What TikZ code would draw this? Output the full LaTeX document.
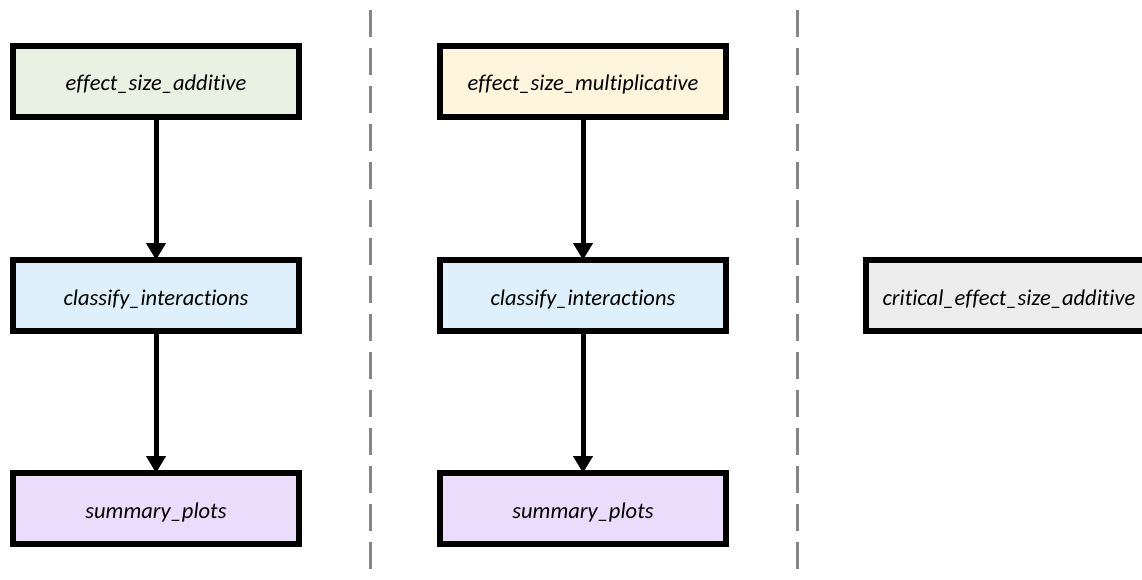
\documentclass[tikz,border=0pt]{standalone}
\usepackage{fontspec}
\setmainfont{Carlito}[Ligatures={NoCommon,NoContextual}]
\usetikzlibrary{arrows.meta}
\definecolor{addgreen}{HTML}{E9F2E2}
\definecolor{multyellow}{HTML}{FFF4DC}
\definecolor{classblue}{HTML}{DDF0FB}
\definecolor{plotpurple}{HTML}{EADCFA}
\definecolor{critgray}{HTML}{EDEDED}
\definecolor{sepgray}{HTML}{868686}
\tikzset{
  fnbox/.style={draw=black, line width=6pt, minimum width=286pt, minimum height=71pt,
    inner sep=0pt, text height=21pt, text depth=2pt,
    font=\fontsize{22.5}{27}\selectfont\itshape},
  flow/.style={line width=5pt, -{Triangle[width=19pt,length=17pt]}},
  separator/.style={sepgray, line width=3pt, dash pattern=on 27pt off 11pt}
}
\begin{document}
\begin{tikzpicture}[x=1pt, y=-1pt]
  \useasboundingbox (0,0) rectangle (1142,580);
  \clip (0,0) rectangle (1142,580);

  % column separators
  \coordinate (s1top) at (370,10);
  \coordinate (s1bot) at (370,580);
  \coordinate (s2top) at (797,10);
  \coordinate (s2bot) at (797,580);
  \draw[separator] (s1top) -- (s1bot);
  \draw[separator] (s2top) -- (s2bot);

  % additive pipeline
  \node[fnbox, fill=addgreen]   (add)   at (156,81.5)  {effect\_size\_additive};
  \node[fnbox, fill=classblue]  (clsA)  at (156,295.5) {classify\_interactions};
  \node[fnbox, fill=plotpurple] (plotA) at (156,508.5) {summary\_plots};

  % multiplicative pipeline
  \node[fnbox, fill=multyellow] (mult)  at (583,81.5)  {effect\_size\_multiplicative};
  \node[fnbox, fill=classblue]  (clsM)  at (583,295.5) {classify\_interactions};
  \node[fnbox, fill=plotpurple] (plotM) at (583,508.5) {summary\_plots};

  % standalone function
  \node[fnbox, fill=critgray]   (crit)  at (1009,295.5) {critical\_effect\_size\_additive};

  \draw[flow] (add.south)  -- ([yshift=-3pt]clsA.north);
  \draw[flow] (clsA.south) -- ([yshift=-3pt]plotA.north);
  \draw[flow] (mult.south) -- ([yshift=-3pt]clsM.north);
  \draw[flow] (clsM.south) -- ([yshift=-3pt]plotM.north);
\end{tikzpicture}
\end{document}
